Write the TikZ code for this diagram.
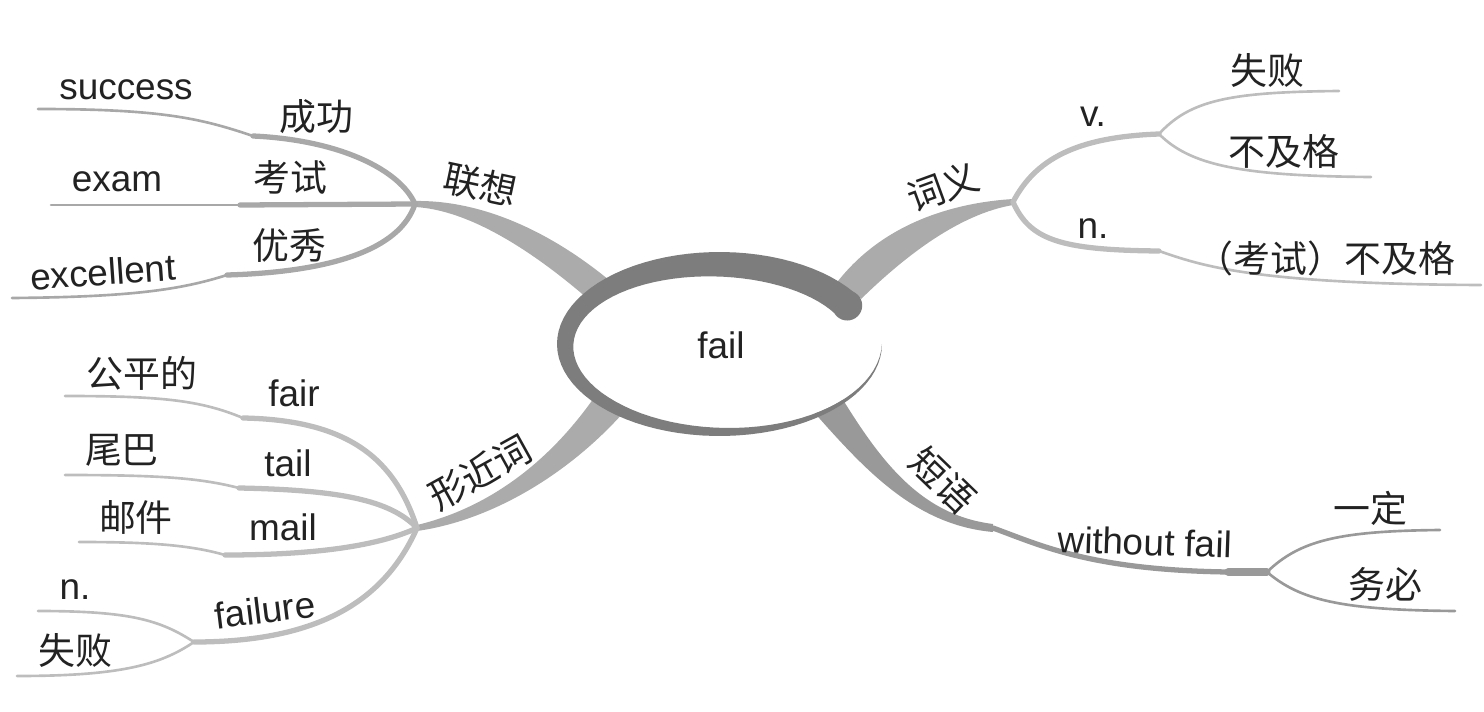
\documentclass[tikz,border=0pt]{standalone}
\usepackage{fontspec}
\setmainfont{Liberation Sans}
\newfontfamily\cjk{Noto Sans CJK SC}
\usepackage{xcolor}
\usepackage{tikz}
\usetikzlibrary{calc,positioning}
\definecolor{ringgray}{HTML}{7D7D7D}
\definecolor{maingray}{HTML}{ABABAB}
\definecolor{darkgray}{HTML}{999999}
\definecolor{subgray}{HTML}{A8A8A8}
\definecolor{lightgray}{HTML}{BDBDBD}
\definecolor{txt}{HTML}{222222}

\begin{document}
\begin{tikzpicture}[x=0.01cm,y=-0.01cm,line cap=round,
  en/.style={font=\fontsize{10.5}{12}\selectfont,text=txt},
  cn/.style={font=\cjk\fontsize{10.5}{12}\selectfont,text=txt},
  thickbr/.style={line width=1.5pt},
  thinbr/.style={line width=0.75pt}]
\useasboundingbox (0,0) rectangle (1484,712);

% forks and elbows
\coordinate (lxfork) at (415,204);
\coordinate (cyfork) at (1013,202);
\coordinate (xjfork) at (417,528);
\coordinate (dyfork) at (993,528);
\coordinate (vfork) at (1159,134);
\coordinate (nelbow) at (1159,251);
\coordinate (ffork) at (194,642);
\coordinate (welbow) at (1228,572);
\coordinate (wfork) at (1267,572);
\coordinate (selbow) at (253,136);
\coordinate (eelbow) at (240,205);
\coordinate (xelbow) at (227,275);
\coordinate (faelbow) at (243,418);
\coordinate (taelbow) at (239,488);
\coordinate (maelbow) at (225,555);

% main branches
\fill[maingray] (415,201) .. controls (480,200) and (550,230) .. (615,285)
  -- (595,305) .. controls (535,252) and (470,210) .. (415,207) -- cycle;
\fill[maingray] (1013,199) .. controls (950,203) and (880,225) .. (835,285)
  -- (855,305) .. controls (905,255) and (960,214) .. (1013,205) -- cycle;
\fill[maingray] (417,525) .. controls (480,510) and (545,470) .. (598,392)
  -- (630,405) .. controls (575,470) and (495,520) .. (417,531) -- cycle;
\fill[darkgray] (840,395) .. controls (880,460) and (920,515) .. (993,524)
  -- (993,532) .. controls (915,525) and (865,470) .. (812,410) -- cycle;

% 联想
\draw[subgray,thickbr] (lxfork) .. controls (400,170) and (340,140) .. (selbow);
\draw[subgray,thinbr] (selbow) .. controls (200,118) and (160,109) .. (38,109);
\draw[subgray,thickbr] (lxfork) -- (eelbow);
\draw[subgray,thinbr] (eelbow) -- (51,205);
\draw[subgray,thickbr] (lxfork) .. controls (400,250) and (330,272) .. (xelbow);
\draw[subgray,thinbr] (xelbow) .. controls (180,290) and (130,297) .. (12,298);

% 词义
\draw[lightgray,thickbr] (cyfork) .. controls (1035,160) and (1075,137) .. (vfork);
\draw[lightgray,thinbr] (vfork) .. controls (1190,100) and (1230,92) .. (1339,91);
\draw[lightgray,thinbr] (vfork) .. controls (1190,165) and (1240,176) .. (1371,177);
\draw[lightgray,thickbr] (cyfork) .. controls (1030,240) and (1060,250) .. (nelbow);
\draw[lightgray,thinbr] (nelbow) .. controls (1200,265) and (1250,284) .. (1481,285);

% 形近词
\draw[lightgray,thickbr] (xjfork) .. controls (395,460) and (350,420) .. (faelbow);
\draw[lightgray,thinbr] (faelbow) .. controls (200,400) and (160,396) .. (65,396);
\draw[lightgray,thickbr] (xjfork) .. controls (390,500) and (340,490) .. (taelbow);
\draw[lightgray,thinbr] (taelbow) .. controls (200,478) and (160,475) .. (65,475);
\draw[lightgray,thickbr] (xjfork) .. controls (380,545) and (320,555) .. (maelbow);
\draw[lightgray,thinbr] (maelbow) .. controls (190,545) and (150,542) .. (79,542);
\draw[lightgray,thickbr] (xjfork) .. controls (385,600) and (320,642) .. (ffork);
\draw[lightgray,thinbr] (ffork) .. controls (160,620) and (130,611) .. (38,611);
\draw[lightgray,thinbr] (ffork) .. controls (160,665) and (120,676) .. (17,676);

% 短语
\draw[darkgray,thickbr] (dyfork) .. controls (1040,545) and (1090,570) .. (welbow);
\draw[darkgray,line width=2pt] (welbow) -- (wfork);
\draw[darkgray,thinbr] (wfork) .. controls (1300,540) and (1340,531) .. (1440,530);
\draw[darkgray,thinbr] (wfork) .. controls (1300,600) and (1340,610) .. (1455,611);

% central swoosh
\fill[white] plot[domain=0:330,samples=60] ({719.5+(162.5-\x/11)*cos(\x)},{344+(92-\x/11)*sin(\x)})
  -- plot[domain=330:360,samples=10] ({719.5+162.5*cos(\x)},{344+92*sin(\x)}) -- cycle;
\fill[ringgray] plot[domain=0:330,samples=80] ({719.5+162.5*cos(\x)},{344+92*sin(\x)})
  -- plot[domain=0:330,samples=80] ({719.5+(162.5-(330-\x)/11)*cos(330-\x)},{344+(92-(330-\x)/11)*sin(330-\x)}) -- cycle;
\fill[ringgray] (847.2,305.5) circle[radius=0.15cm];
\node[en] (fail) at (721,345) {fail};

% labels
\node[cn,rotate=-12] (lianxiang) at (480,185) {联想};
\node[en] (success) at (126,90) {success};
\node[cn] (chenggong) at (316,117) {成功};
\node[en] (exam) at (117,182) {exam};
\node[cn] (kaoshi) at (290,177) {考试};
\node[cn] (youxiu) at (289,246) {优秀};
\node[en,rotate=4] (excellent) at (103,272) {excellent};

\node[cn,rotate=20] (ciyi) at (943,187) {词义};
\node[en] (verb) at (1093,117) {v.};
\node[cn] (shibaiv) at (1267,70) {失败};
\node[cn] (bujige) at (1284,151) {不及格};
\node[en] (noun) at (1093,229) {n.};
\node[cn] (kaoshibjg) at (1326,258) {（考试）不及格};

\node[cn,rotate=29] (xingjinci) at (480,472) {形近词};
\node[cn] (gongping) at (142,373) {公平的};
\node[en] (fair) at (294,393) {fair};
\node[cn] (weiba) at (122,450) {尾巴};
\node[en] (tail) at (288,463) {tail};
\node[cn] (youjian) at (136,517) {邮件};
\node[en] (mail) at (283,527) {mail};
\node[en,rotate=7] (failure) at (265,610) {failure};
\node[en] (nounf) at (75,590) {n.};
\node[cn] (shibain) at (75,650) {失败};

\node[cn,rotate=-44] (duanyu) at (943,480) {短语};
\node[en,rotate=-2] (without) at (1145,542) {without fail};
\node[cn] (yiding) at (1370,508) {一定};
\node[cn] (wubi) at (1385,584) {务必};
\end{tikzpicture}
\end{document}
